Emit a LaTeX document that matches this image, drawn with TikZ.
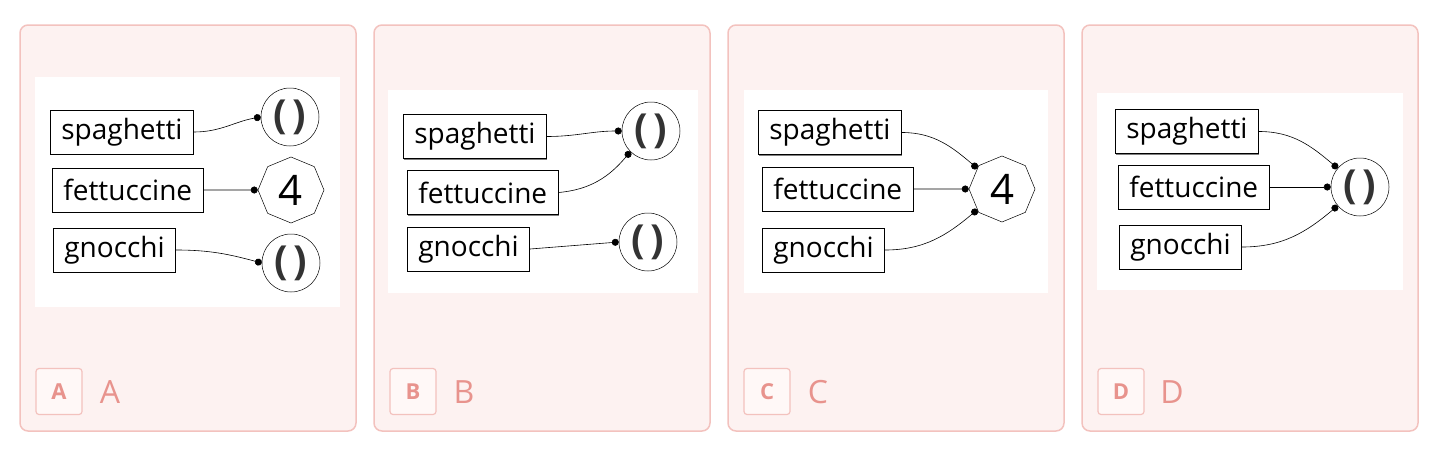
\documentclass[tikz,border=0pt]{standalone}
\usepackage{fontspec}
\setmainfont{Open Sans}
\usetikzlibrary{arrows.meta, shapes.geometric, shadows}
\definecolor{panelfill}{RGB}{253,242,241}
\definecolor{paneldraw}{RGB}{243,194,190}
\definecolor{tagfill}{RGB}{255,248,247}
\definecolor{tagtext}{RGB}{232,147,141}
\definecolor{parencolor}{RGB}{51,51,51}

\begin{document}
\begin{tikzpicture}[x=1pt, y=1pt,
    panel/.style={draw=paneldraw, fill=panelfill, line width=1.5pt, rounded corners=8pt},
    pasta/.style={draw, fill=white, line width=0.7pt, anchor=west, inner xsep=11pt, minimum height=44pt,
        font=\fontsize{28}{30}\selectfont, drop shadow={shadow xshift=0.6pt, shadow yshift=-1.2pt, fill=black}},
    unit/.style={circle, draw, fill=white, line width=0.5pt, minimum size=58pt, inner sep=0pt,
        font=\fontsize{40}{40}\selectfont\bfseries, text=parencolor},
    count/.style={regular polygon, regular polygon sides=8, shape border rotate=22.5, draw, fill=white,
        line width=0.5pt, minimum size=66pt, inner sep=0pt, font=\fontsize{42}{42}\selectfont},
    link/.style={line width=0.6pt, -{Circle[length=7pt]}},
    tag/.style={draw=paneldraw, fill=tagfill, line width=1.2pt, rounded corners=3pt, minimum size=46pt,
        text=tagtext, font=\fontsize{22}{22}\selectfont\bfseries},
    caption/.style={text=tagtext, font=\fontsize{32}{32}\selectfont}]
    \useasboundingbox (0,0) rectangle (1448,-458);

    % Panel A
    \draw[panel] (20,-25) rectangle (356,-431);
    \fill[white] (35,-77) rectangle (340,-307);
    \node[pasta] (sA) at (50,-132) {spaghetti};
    \node[pasta] (fA) at (52,-190) {fettuccine};
    \node[pasta] (gA) at (53,-250) {gnocchi};
    \node[unit] (uA1) at (290,-117) {(\hspace{5pt})};
    \node[count] (nA) at (291,-190) {4};
    \node[unit] (uA3) at (291,-263) {(\hspace{5pt})};
    \draw[link] (sA.east) to[out=0, in=190] (uA1.west);
    \draw[link] (fA.east) -- (nA.west);
    \draw[link] (gA.east) to[out=0, in=165] (uA3.west);
    \node[tag] (tA) at (59,-391.5) {A};
    \node[caption] (cA) at (110,-392) {A};

    % Panel B
    \draw[panel] (374,-25) rectangle (710,-431);
    \fill[white] (388,-90) rectangle (698,-293);
    \node[pasta] (sB) at (403,-136.5) {spaghetti};
    \node[pasta] (fB) at (407,-192.5) {fettuccine};
    \node[pasta] (gB) at (407,-249) {gnocchi};
    \node[unit] (uB1) at (651,-131) {(\hspace{5pt})};
    \node[unit] (uB2) at (648,-242) {(\hspace{5pt})};
    \draw[link] (sB.east) to[out=0, in=180] (uB1.west);
    \draw[link] (fB.east) to[out=5, in=230] (uB1.225);
    \draw[link] (gB.east) -- (uB2.west);
    \node[tag] (tB) at (413,-391.5) {B};
    \node[caption] (cB) at (464,-392) {B};

    % Panel C
    \draw[panel] (728,-25) rectangle (1064,-431);
    \fill[white] (744,-90) rectangle (1048,-293);
    \node[pasta] (sC) at (758,-132.5) {spaghetti};
    \node[pasta] (fC) at (762,-189) {fettuccine};
    \node[pasta] (gC) at (762,-250) {gnocchi};
    \node[count] (nC) at (1002,-189) {4};
    \draw[link] (sC.east) to[out=0, in=140] (nC.140);
    \draw[link] (fC.east) -- (nC.west);
    \draw[link] (gC.east) to[out=0, in=220] (nC.220);
    \node[tag] (tC) at (767,-391.5) {C};
    \node[caption] (cC) at (818,-392) {C};

    % Panel D
    \draw[panel] (1082,-25) rectangle (1418,-431);
    \fill[white] (1097,-93) rectangle (1403,-290);
    \node[pasta] (sD) at (1115,-131.5) {spaghetti};
    \node[pasta] (fD) at (1118,-187) {fettuccine};
    \node[pasta] (gD) at (1119,-247) {gnocchi};
    \node[unit] (uD) at (1360,-187) {(\hspace{5pt})};
    \draw[link] (sD.east) to[out=0, in=140] (uD.140);
    \draw[link] (fD.east) -- (uD.west);
    \draw[link] (gD.east) to[out=0, in=220] (uD.220);
    \node[tag] (tD) at (1121,-391.5) {D};
    \node[caption] (cD) at (1172,-392) {D};

\end{tikzpicture}
\end{document}
